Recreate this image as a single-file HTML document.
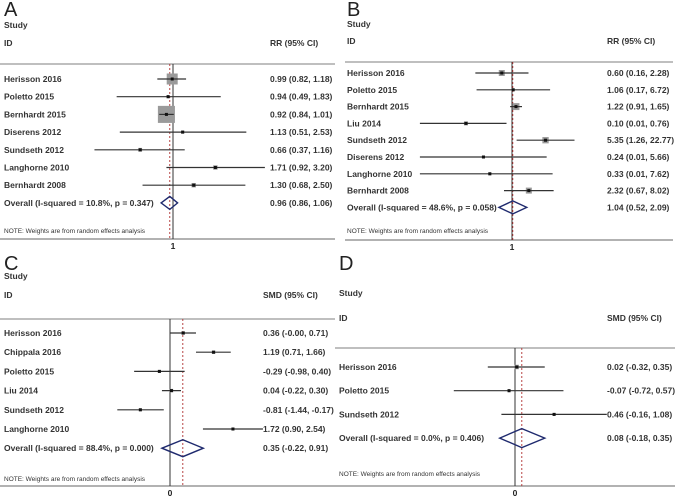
<!DOCTYPE html>
<html><head><meta charset="utf-8">
<style>
body{margin:0;background:#fff;}
svg text{font-family:"Liberation Sans",Arial,sans-serif;}
</style></head>
<body>
<svg id="fig" width="675" height="498" viewBox="0 0 675 498" xmlns="http://www.w3.org/2000/svg"></svg>
<script>
// ---- Panel A data (RR, log scale) ----
const aStudies = ["Herisson 2016","Poletto 2015","Bernhardt 2015","Diserens 2012","Sundseth 2012","Langhorne 2010","Bernhardt 2008"];
const aEst = [0.99,0.94,0.92,1.13,0.66,1.71,1.30];
const aLo  = [0.82,0.49,0.84,0.51,0.37,0.92,0.68];
const aHi  = [1.18,1.83,1.01,2.53,1.16,3.20,2.50];
const aWt  = [25,2,60,2,3,4,4];
const aOverall = [0.96,0.86,1.06];
const aHet = "Overall  (I-squared = 10.8%, p = 0.347)";
// ---- Panel B data (RR, log scale) ----
const bStudies = ["Herisson 2016","Poletto 2015","Bernhardt 2015","Liu 2014","Sundseth 2012","Diserens 2012","Langhorne 2010","Bernhardt 2008"];
const bEst = [0.60,1.06,1.22,0.10,5.35,0.24,0.33,2.32];
const bLo  = [0.16,0.17,0.91,0.01,1.26,0.01,0.01,0.67];
const bHi  = [2.28,6.72,1.65,0.76,22.77,5.66,7.62,8.02];
const bWt  = [9,2,12,4,10,1,1,9];
const bOverall = [1.04,0.52,2.09];
const bHet = "Overall  (I-squared = 48.6%, p = 0.058)";
// ---- Panel C data (SMD, linear) ----
const cStudies = ["Herisson 2016","Chippala 2016","Poletto 2015","Liu 2014","Sundseth 2012","Langhorne 2010"];
const cEst = [0.36,1.19,-0.29,0.04,-0.81,1.72];
const cLo  = [-0.004,0.71,-0.98,-0.22,-1.44,0.90];
const cHi  = [0.71,1.66,0.40,0.30,-0.17,2.54];
const cWt  = [3,3,2,3,2,2];
const cOverall = [0.35,-0.22,0.91];
const cHet = "Overall  (I-squared = 88.4%, p = 0.000)";
// ---- Panel D data (SMD, linear) ----
const dStudies = ["Herisson 2016","Poletto 2015","Sundseth 2012"];
const dEst = [0.02,-0.07,0.46];
const dLo  = [-0.32,-0.72,-0.16];
const dHi  = [0.35,0.57,1.08];
const dWt  = [5,2,2];
const dOverall = [0.08,-0.18,0.35];
const dHet = "Overall  (I-squared = 0.0%, p = 0.406)";

const NS="http://www.w3.org/2000/svg";
const svg=document.getElementById('fig');
function mk(tag,attrs,parent){const e=document.createElementNS(NS,tag);for(const k in attrs)e.setAttribute(k,attrs[k]);(parent||svg).appendChild(e);return e;}
function txt(x,y,s,size,parent,extra){const t=mk('text',Object.assign({x:x,y:y,'font-size':size,fill:'#222'},extra||{}),parent);t.textContent=s;return t;}
function f2(v){return v.toFixed(2);}

function panel(p){
  const g=mk('g',{});
  
  
  const lab=txt(p.ox+4,p.letterY,p.letter,20,g);
  
  
  const h1=txt(p.ox+4,p.studyY,"Study",8.5,g,{'font-weight':'bold','fill':'#333'});
  
  
  const h2=txt(p.ox+4,p.idY,"ID",8.5,g,{'font-weight':'bold','fill':'#333'});
  
  
  const h3=txt(p.textX,p.idY,p.measure+" (95% CI)",8.5,g,{'font-weight':'bold','fill':'#333'});
  
  
  const tr=mk('line',{x1:p.ruleX1,x2:p.ruleX2,y1:p.topY,y2:p.topY,stroke:'#aaa','stroke-width':1.5},g);
  
  
  const br=mk('line',{x1:p.ruleX1,x2:p.ruleX2,y1:p.botY,y2:p.botY,stroke:'#999','stroke-width':1.5},g);
  
  
  const X=v=>p.nullX+p.scale*(p.log?Math.log(v):v);
  const nl=mk('line',{x1:p.nullX,x2:p.nullX,y1:p.topY,y2:p.botY,stroke:'#333','stroke-width':1},g);
  
  
  const ox=X(p.overall[0]);
  const dl=mk('line',{x1:ox,x2:ox,y1:p.topY,y2:p.botY,stroke:'#b03030','stroke-width':0.9,'stroke-dasharray':'2,2'},g);
  
  
  const tk=txt(p.nullX,p.botY+10,p.log?"1":"0",8.5,g,{'text-anchor':'middle','font-weight':'bold'});
  
  
  p.studies.forEach((s,i)=>{
    const y=p.rowY0+i*p.rowH;
    const sl=txt(p.ox+4,y+3,s,8.5,g,{'font-weight':'bold','fill':'#333'});
    
    
    const side=Math.max(3,p.k*Math.sqrt(p.wt[i]));
    const bx=mk('rect',{x:X(p.est[i])-side/2,y:y-side/2,width:side,height:side,fill:'#9a9a9a'},g);
    
    
    const ci=mk('line',{x1:X(p.lo[i]),x2:X(p.hi[i]),y1:y,y2:y,stroke:'#333','stroke-width':1.2},g);
    
    
    const pt=mk('rect',{x:X(p.est[i])-1.5,y:y-1.5,width:3,height:3,fill:'#111'},g);
    
    
    const vt=txt(p.textX,y+3,f2(p.est[i])+" ("+f2(p.lo[i])+", "+f2(p.hi[i])+")",8.5,g,{'font-weight':'bold','fill':'#333'});
    
    
  });
  const y=p.rowY0+p.studies.length*p.rowH+p.extraO;
  const ol=txt(p.ox+4,y+3,p.het,8.5,g,{'font-weight':'bold','fill':'#333'});
  
  
  const h=p.dh/2;
  const dm=mk('polygon',{points:`${X(p.overall[1])},${y} ${ox},${y-h} ${X(p.overall[2])},${y} ${ox},${y+h}`,fill:'none',stroke:'#1f2a6e','stroke-width':1.4},g);
  
  
  const ov=txt(p.textX,y+3,f2(p.overall[0])+" ("+f2(p.overall[1])+", "+f2(p.overall[2])+")",8.5,g,{'font-weight':'bold','fill':'#333'});
  
  
  const nt=txt(p.ox+4,p.noteY,"NOTE: Weights are from random effects analysis",6.5,g,{'fill':'#333'});
  
  
}

panel({letter:"A",ox:0,letterY:16,studyY:28,idY:46,textX:270,measure:"RR",ruleX1:0,ruleX2:335,topY:64,botY:239,
  nullX:173,scale:79,log:true,rowY0:79,rowH:17.7,extraO:0,noteY:233,dh:13,k:2.2,
  studies:aStudies,est:aEst,lo:aLo,hi:aHi,wt:aWt,overall:aOverall,het:aHet});
panel({letter:"B",ox:343,letterY:16,studyY:27,idY:44,textX:607,measure:"RR",ruleX1:345,ruleX2:673,topY:62,botY:240,
  nullX:512,scale:20,log:true,rowY0:73,rowH:16.8,extraO:0,noteY:233,dh:13,k:2,
  studies:bStudies,est:bEst,lo:bLo,hi:bHi,wt:bWt,overall:bOverall,het:bHet});
panel({letter:"C",ox:0,letterY:270,studyY:279,idY:298,textX:263,measure:"SMD",ruleX1:0,ruleX2:335,topY:319,botY:486,
  nullX:170,scale:36.6,log:false,rowY0:333,rowH:19.2,extraO:0,noteY:481,dh:17,k:2,
  studies:cStudies,est:cEst,lo:cLo,hi:cHi,wt:cWt,overall:cOverall,het:cHet});
panel({letter:"D",ox:335,letterY:270,studyY:296,idY:321,textX:607,measure:"SMD",ruleX1:335,ruleX2:675,topY:348,botY:486,
  nullX:515,scale:85,log:false,rowY0:367,rowH:23.7,extraO:0,noteY:476,dh:19,k:2,
  studies:dStudies,est:dEst,lo:dLo,hi:dHi,wt:dWt,overall:dOverall,het:dHet});
</script>
</body></html>
